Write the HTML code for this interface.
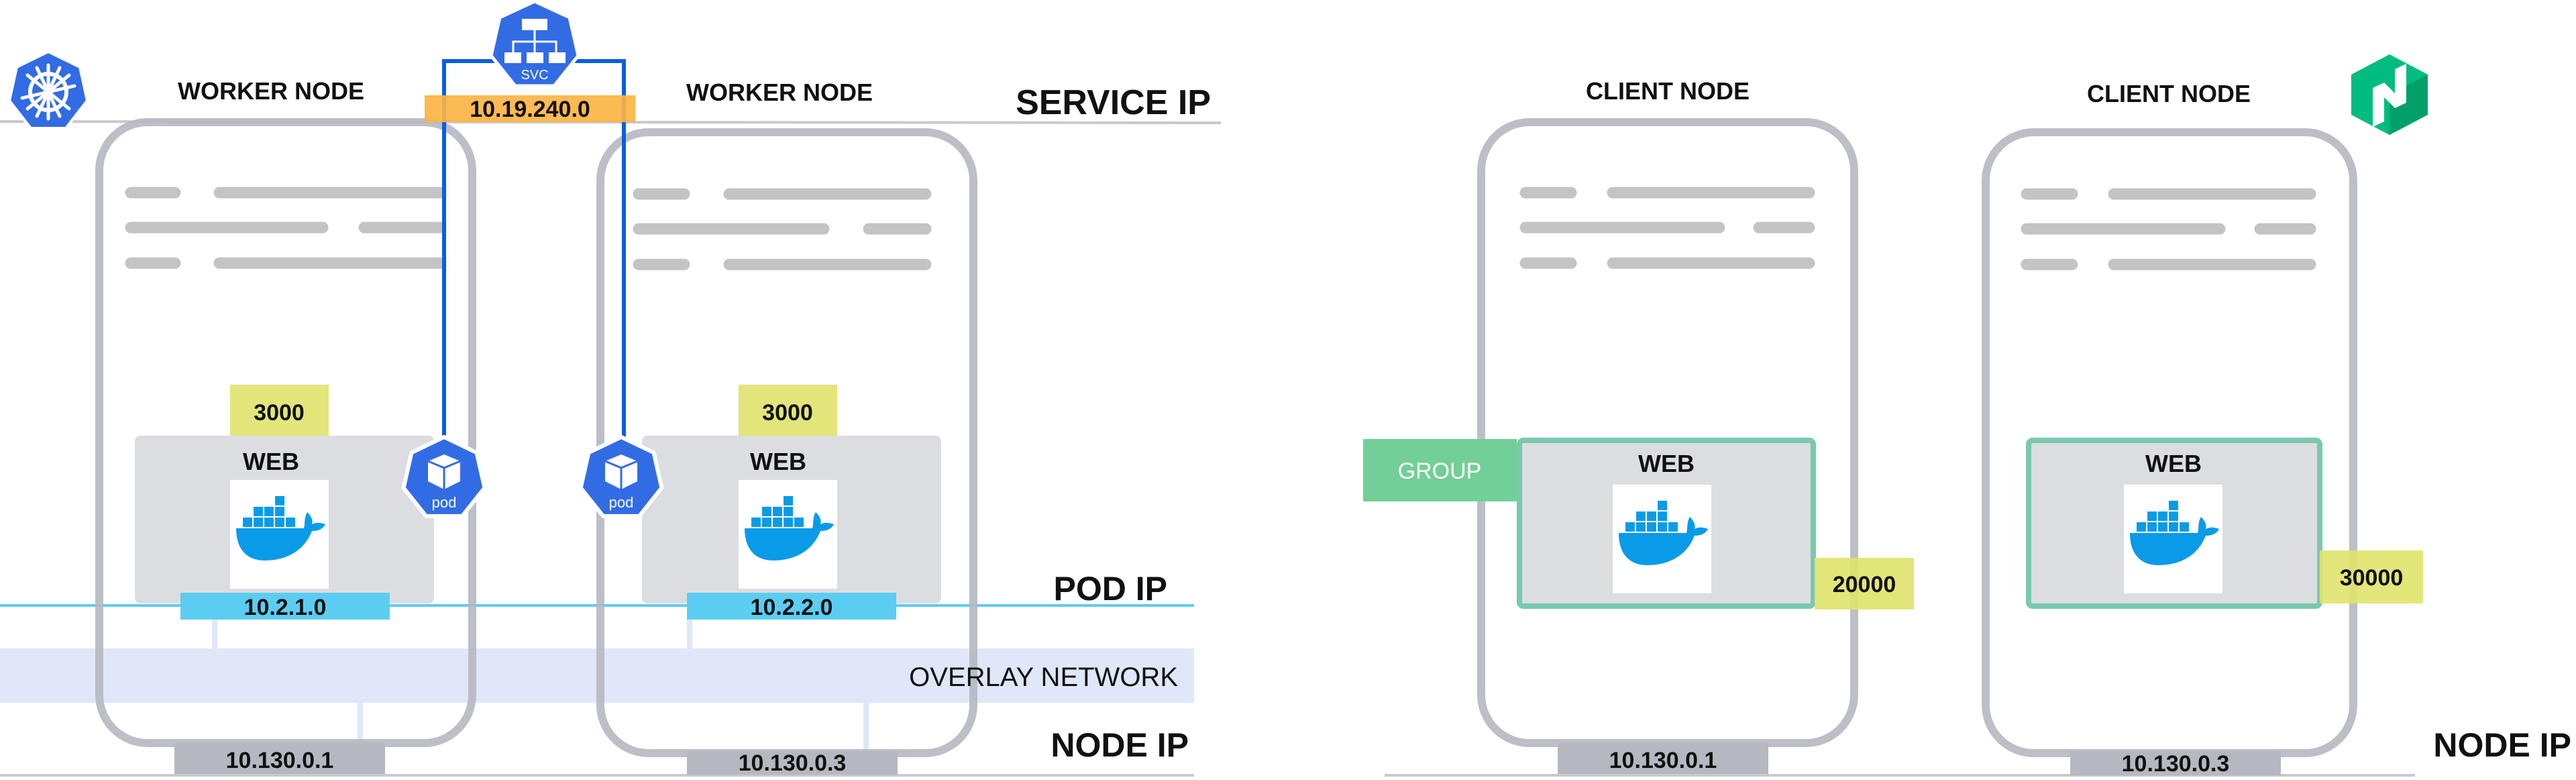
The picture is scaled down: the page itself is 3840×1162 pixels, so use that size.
<!DOCTYPE html>
<html><head><meta charset="utf-8"><style>
html,body{margin:0;padding:0;background:#fff;}
svg{display:block;}
text{font-family:"Liberation Sans",sans-serif;font-weight:bold;fill:#111;}
</style></head><body>
<svg width="3840" height="1162" viewBox="0 0 3840 1162" xmlns="http://www.w3.org/2000/svg">
<defs>
<g id="docker">
<rect x="0" y="0" width="147" height="162" fill="#fff"/>
<g fill="#0a9be8">
<rect x="19" y="56" width="14" height="14"/><rect x="35" y="56" width="14" height="14"/><rect x="51" y="56" width="14" height="14"/><rect x="67" y="56" width="14" height="14"/><rect x="83" y="56" width="14" height="14"/>
<rect x="35" y="40" width="14" height="14"/><rect x="51" y="40" width="14" height="14"/><rect x="67" y="40" width="14" height="14"/>
<rect x="67" y="24" width="14" height="14"/>
<path d="M9,72 H110 C112,66 110,56 115,48 C121,54 124,60 122,66 C130,62 136,64 142,66 C138,74 130,76 122,76 C112,102 88,120 52,120 C22,120 9,100 9,72 Z"/>
</g>
</g>
<g id="pod">
<polygon points="0,-62 48.5,-38.7 60.4,13.8 26.9,55.9 -26.9,55.9 -60.4,13.8 -48.5,-38.7" fill="#326ce5" stroke="#fff" stroke-width="6" stroke-linejoin="round"/>
<polygon points="0,-36 24,-26 24,4 0,16 -24,4 -24,-26" fill="#fff"/>
<path d="M-24,-26 L0,-16 L24,-26 M0,-16 V16" stroke="#326ce5" stroke-width="3" fill="none"/>
<text x="0" y="43" text-anchor="middle" font-size="22" style="fill:#fff;font-weight:normal">pod</text>
</g>
</defs>

<!-- horizontal lines left -->
<line x1="0" y1="181" x2="1820" y2="183" stroke="#c8c9ce" stroke-width="4"/>
<line x1="0" y1="902" x2="1780" y2="902" stroke="#5bcdf2" stroke-width="4"/>
<rect x="0" y="966" width="1780" height="81" fill="#dfe7f9"/>
<line x1="0" y1="1155" x2="1780" y2="1155" stroke="#c8c9ce" stroke-width="4"/>
<line x1="2064" y1="1155" x2="3600" y2="1155" stroke="#c8c9ce" stroke-width="4"/>

<!-- vertical light connectors -->
<rect x="316" y="923" width="8" height="43" fill="#dfe7f9"/>
<rect x="533" y="1040" width="8" height="73" fill="#dfe7f9"/>
<rect x="1024" y="923" width="8" height="43" fill="#dfe7f9"/>
<rect x="1287" y="1040" width="8" height="82" fill="#dfe7f9"/>

<!-- worker nodes -->
<rect x="148" y="182" width="556" height="925" rx="72" fill="none" stroke="#b6b8c1" stroke-width="12" opacity="0.9"/>
<rect x="895" y="197" width="556" height="925" rx="72" fill="none" stroke="#b6b8c1" stroke-width="12" opacity="0.9"/>

<g stroke="#c4c4c4" stroke-width="17" stroke-linecap="round">
<line x1="195" y1="287" x2="261" y2="287"/><line x1="327" y1="287" x2="657" y2="287"/>
<line x1="195" y1="339" x2="481" y2="339"/><line x1="543" y1="339" x2="657" y2="339"/>
<line x1="195" y1="392" x2="261" y2="392"/><line x1="327" y1="392" x2="657" y2="392"/>

<line x1="952" y1="289" x2="1020" y2="289"/><line x1="1087" y1="289" x2="1380" y2="289"/>
<line x1="952" y1="341" x2="1228" y2="341"/><line x1="1295" y1="341" x2="1380" y2="341"/>
<line x1="952" y1="394" x2="1020" y2="394"/><line x1="1087" y1="394" x2="1380" y2="394"/>

<line x1="2274" y1="287" x2="2342" y2="287"/><line x1="2404" y1="287" x2="2697" y2="287"/>
<line x1="2274" y1="339" x2="2563" y2="339"/><line x1="2622" y1="339" x2="2697" y2="339"/>
<line x1="2274" y1="392" x2="2342" y2="392"/><line x1="2404" y1="392" x2="2697" y2="392"/>

<line x1="3021" y1="289" x2="3089" y2="289"/><line x1="3151" y1="289" x2="3444" y2="289"/>
<line x1="3021" y1="341" x2="3309" y2="341"/><line x1="3369" y1="341" x2="3444" y2="341"/>
<line x1="3021" y1="394" x2="3089" y2="394"/><line x1="3151" y1="394" x2="3444" y2="394"/>
</g>

<!-- labels -->
<text x="404" y="148" text-anchor="middle" font-size="36">WORKER NODE</text>
<text x="1162" y="150" text-anchor="middle" font-size="36">WORKER NODE</text>
<text x="1805" y="170" text-anchor="end" font-size="52">SERVICE IP</text>
<text x="1740" y="894" text-anchor="end" font-size="50">POD IP</text>
<text x="1756" y="1022" text-anchor="end" font-size="40" style="font-weight:normal">OVERLAY NETWORK</text>
<text x="1772" y="1127" text-anchor="end" font-size="50">NODE IP</text>

<!-- web boxes left -->
<rect x="343" y="573" width="147" height="76" fill="#e3e57a"/>
<text x="416" y="626" text-anchor="middle" font-size="34">3000</text>
<rect x="201" y="649" width="446" height="250" rx="8" fill="#dcdde1"/>
<text x="404" y="700" text-anchor="middle" font-size="36">WEB</text>
<use href="#docker" x="343" y="715"/>
<rect x="269" y="883" width="312" height="40" fill="#5bcdf2"/>
<text x="425" y="916" text-anchor="middle" font-size="34">10.2.1.0</text>

<rect x="1101" y="573" width="147" height="76" fill="#e3e57a"/>
<text x="1174" y="626" text-anchor="middle" font-size="34">3000</text>
<rect x="957" y="649" width="446" height="250" rx="8" fill="#dcdde1"/>
<text x="1160" y="700" text-anchor="middle" font-size="36">WEB</text>
<use href="#docker" x="1101" y="715"/>
<rect x="1024" y="883" width="312" height="40" fill="#5bcdf2"/>
<text x="1180" y="916" text-anchor="middle" font-size="34">10.2.2.0</text>

<!-- node IP boxes left -->
<rect x="260" y="1107" width="314" height="46" fill="#b6b8c1"/>
<text x="417" y="1144" text-anchor="middle" font-size="34">10.130.0.1</text>
<rect x="1024" y="1118" width="314" height="36" fill="#b6b8c1"/>
<text x="1181" y="1148" text-anchor="middle" font-size="34">10.130.0.3</text>

<!-- service connectors -->
<path d="M662,710 V91 H930 V710" fill="none" stroke="#0a5fe0" stroke-width="6"/>
<rect x="633" y="142" width="314" height="40" fill="#fbb443" opacity="0.92"/>
<text x="790" y="174" text-anchor="middle" font-size="34">10.19.240.0</text>

<!-- svc icon -->
<g transform="translate(797,68)">
<polygon points="0,-66 52,-42 65,15 29,60 -29,60 -65,15 -52,-42" fill="#326ce5" stroke="#fff" stroke-width="5" stroke-linejoin="round"/>
<rect x="-19" y="-40" width="38" height="17" fill="#fff"/>
<path d="M0,-23 V-6 M-32,10 V-6 H32 V10 M0,-6 V10" stroke="#fff" stroke-width="3" fill="none"/>
<rect x="-45" y="10" width="25" height="16" fill="#fff"/><rect x="-12" y="10" width="25" height="16" fill="#fff"/><rect x="21" y="10" width="25" height="16" fill="#fff"/>
<text x="0" y="50" text-anchor="middle" font-size="20" style="fill:#fff;font-weight:normal">SVC</text>
</g>

<use href="#pod" x="662" y="713"/>
<use href="#pod" x="926" y="713"/>

<!-- k8s logo -->
<g transform="translate(72,137)">
<polygon points="0,-60 47,-37 58,13 26,54 -26,54 -58,13 -47,-37" fill="#326ce5" stroke="#fff" stroke-width="4" stroke-linejoin="round"/>
<circle r="27" fill="none" stroke="#fff" stroke-width="6"/>
<circle r="7" fill="#fff"/>
<g stroke="#fff" stroke-width="5" stroke-linecap="round">
<line x1="0" y1="-40" x2="0" y2="40"/><line x1="-31" y1="-25" x2="31" y2="25"/><line x1="31" y1="-25" x2="-31" y2="25"/>
<line x1="-39" y1="9" x2="39" y2="-9"/><line x1="-17" y1="36" x2="17" y2="-36"/><line x1="17" y1="36" x2="-17" y2="-36"/>
</g>
</g>

<!-- client nodes -->
<rect x="2208" y="182" width="556" height="925" rx="72" fill="none" stroke="#b6b8c1" stroke-width="12" opacity="0.9"/>
<rect x="2960" y="197" width="548" height="925" rx="72" fill="none" stroke="#b6b8c1" stroke-width="12" opacity="0.9"/>
<text x="2486" y="148" text-anchor="middle" font-size="36">CLIENT NODE</text>
<text x="3233" y="152" text-anchor="middle" font-size="36">CLIENT NODE</text>
<text x="3833" y="1127" text-anchor="end" font-size="50">NODE IP</text>

<rect x="2265" y="656" width="438" height="247" rx="6" fill="#dcdde1" stroke="#78c9ad" stroke-width="8"/>
<text x="2484" y="703" text-anchor="middle" font-size="36">WEB</text>
<use href="#docker" x="2404" y="722"/>
<rect x="2032" y="654" width="229" height="93" fill="#72cf97"/>
<text x="2146" y="713" text-anchor="middle" font-size="34" style="fill:#fff;font-weight:normal">GROUP</text>
<rect x="2705" y="831" width="148" height="77" fill="#e0e36a" opacity="0.9"/>
<text x="2779" y="882" text-anchor="middle" font-size="34">20000</text>

<rect x="3024" y="656" width="434" height="247" rx="6" fill="#dcdde1" stroke="#78c9ad" stroke-width="8"/>
<text x="3240" y="703" text-anchor="middle" font-size="36">WEB</text>
<use href="#docker" x="3166" y="722"/>
<rect x="3458" y="820" width="154" height="79" fill="#e0e36a" opacity="0.9"/>
<text x="3535" y="872" text-anchor="middle" font-size="34">30000</text>

<rect x="2322" y="1107" width="314" height="46" fill="#b6b8c1"/>
<text x="2479" y="1144" text-anchor="middle" font-size="34">10.130.0.1</text>
<rect x="3086" y="1118" width="314" height="37" fill="#b6b8c1"/>
<text x="3243" y="1149" text-anchor="middle" font-size="34">10.130.0.3</text>

<!-- nomad logo -->
<g transform="translate(3562,141)">
<polygon points="0,-60 57,-30 57,30 0,60 -57,30 -57,-30" fill="#00bc7f"/>
<polygon points="57,-30 57,30 0,60 0,0" fill="#00a06a"/>
<polygon points="-25,-10 -8,-18 8,-2 8,-38 25,-46 25,12 8,20 -8,4 -8,40 -25,48" fill="#fff"/>
</g>
</svg>
</body></html>
